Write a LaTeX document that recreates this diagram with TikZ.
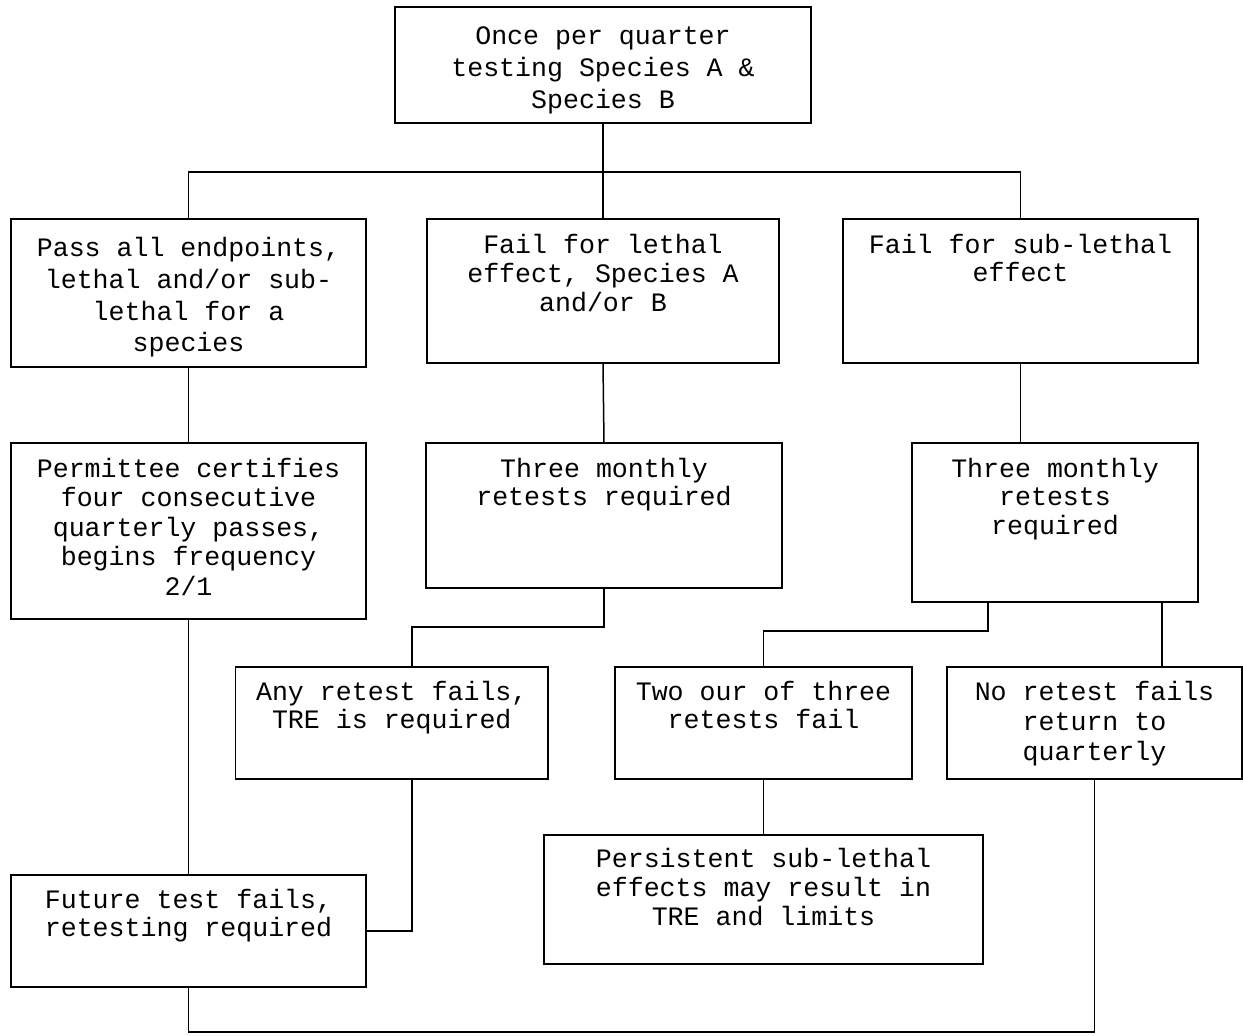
\documentclass[tikz,border=0pt]{standalone}
\usepackage{fontspec}
\newfontfamily\cour{Liberation Mono}
\newcommand{\bxt}[5]{\parbox[t][#2pt][t]{#1pt}{\cour\fontsize{13.3}{#4}\selectfont\lineskiplimit=-20pt\centering\vspace*{\dimexpr #3pt-11pt\relax}\rule{0pt}{11pt}#5}}
\begin{document}
\begin{tikzpicture}[x=0.5pt,y=-0.5pt,
  box/.style={draw=black,line width=0.9pt,inner sep=0pt,outer sep=0pt,anchor=north west,text=black},
  conn/.style={draw=black,line width=0.75pt}]
\useasboundingbox (0,0) rectangle (1243,1035);
\node[box] (top) at (395,7) {\bxt{208}{58}{18.5}{16pt}{Once per quarter\\testing Species A \&\\Species B}};
\node[box] (pass) at (11,219) {\bxt{177.5}{74}{18.85}{15.85pt}{Pass all endpoints,\\lethal and/or sub-\\lethal for a\\species}};
\node[box] (flet) at (427,219) {\bxt{176}{72}{17.15}{14.6pt}{Fail for lethal\\effect, Species A\\and/or B}};
\node[box] (fsub) at (843,219) {\bxt{177.5}{72}{17.15}{13.85pt}{Fail for sub-lethal\\effect}};
\node[box] (perm) at (11,443) {\bxt{177.5}{88}{17.15}{14.75pt}{Permittee certifies\\four consecutive\\quarterly passes,\\begins frequency\\2/1}};
\node[box] (three1) at (426,443) {\bxt{178}{72.5}{17.15}{13.85pt}{Three monthly\\retests required}};
\node[box] (three2) at (912,443) {\bxt{143}{79.5}{17.15}{14.25pt}{Three monthly\\retests\\required}};
\node[box] (anyr) at (235.5,667) {\bxt{156.25}{56}{16.5}{14.15pt}{Any retest fails,\\TRE is required}};
\node[box] (two) at (615,667) {\bxt{148.5}{56}{16.5}{14.15pt}{Two our of three\\retests fail}};
\node[box] (noret) at (947,667) {\bxt{147.5}{56}{16.5}{15pt}{No retest fails\\return to\\quarterly}};
\node[box] (pers) at (544,835) {\bxt{219.5}{64.5}{16.15}{14.65pt}{Persistent sub-lethal\\effects may result in\\TRE and limits}};
\node[box] (fut) at (11,875) {\bxt{177.5}{56}{16.65}{14.15pt}{Future test fails,\\retesting required}};
\coordinate (bus) at (603,172);
\coordinate (j1) at (412,627);
\coordinate (j2) at (988,631);
\coordinate (j3) at (1162,640);
\coordinate (j4) at (1094.5,1032);
\draw[conn] (top.south) -- (flet.north);
\draw[conn] (pass.north) |- (bus) -| (fsub.north);
\draw[conn] (pass.south) -- (perm.north);
\draw[conn] (flet.south) -- (three1.north);
\draw[conn] (fsub.south) -- (fsub.south |- three2.north);
\draw[conn] (three1.south) |- (j1) -- (j1 |- anyr.north);
\draw[conn] (j2 |- three2.south) -- (j2) -| (two.north);
\draw[conn] (j3 |- three2.south) -- (j3 |- noret.north);
\draw[conn] (two.south) -- (pers.north);
\draw[conn] (perm.south) -- (fut.north);
\draw[conn] (j1 |- anyr.south) |- (fut.east);
\draw[conn] (noret.south) -- (j4) -| (fut.south);
\end{tikzpicture}
\end{document}
